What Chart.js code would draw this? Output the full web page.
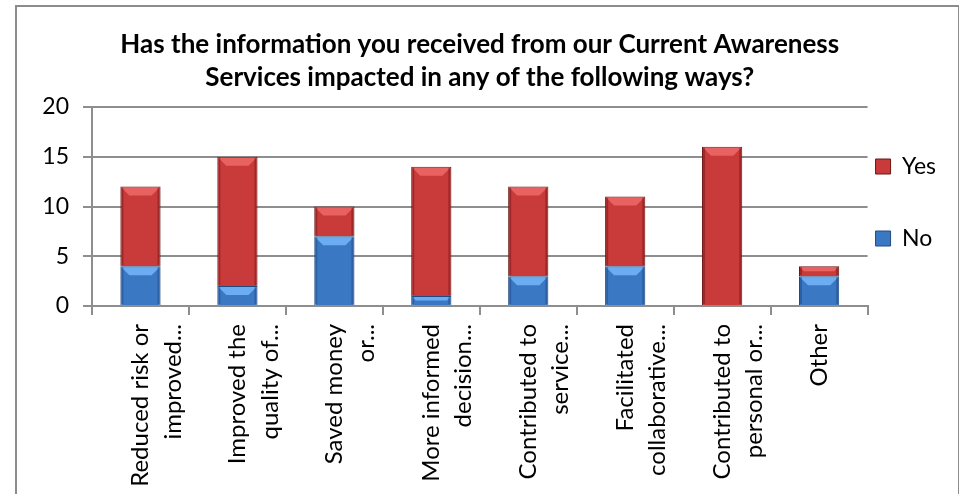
<!DOCTYPE html>
<html>
<head>
<meta charset="utf-8">
<script src="https://cdn.jsdelivr.net/npm/chart.js@4/dist/chart.umd.min.js"></script>
<style>
  body { margin: 0; background: #fff; overflow: hidden; }
  #box { position: absolute; left: 15px; top: 5px; width: 941px; height: 489px; border: 2px solid #8c8c8c; }
</style>
</head>
<body>
<div id="box"><canvas id="c"></canvas></div>
<script>
// データ
const categories = [
    ['Reduced risk or', 'improved...'],
    ['Improved the', 'quality of...'],
    ['Saved money', 'or...'],
    ['More informed', 'decision...'],
    ['Contributed to', 'service...'],
    ['Facilitated', 'collaborative...'],
    ['Contributed to', 'personal or...'],
    'Other'
];
const noValues = [4, 2, 7, 1, 3, 4, 0, 3];
const yesValues = [8, 13, 3, 13, 9, 7, 16, 1];
const yTicks = [0, 5, 10, 15, 20];

const fontName = 'Lato, "Open Sans", sans-serif';

// 立体っぽい面取り（上端のハイライト）
const bevelPlugin = {
    id: 'bevel',
    afterDatasetsDraw(chart) {
        const ctx = chart.ctx;
        chart.data.datasets.forEach((ds, i) => {
            const meta = chart.getDatasetMeta(i);
            meta.data.forEach((bar, j) => {
                if (!ds.data[j]) return;
                const w = bar.width;
                const left = bar.x - w / 2;
                const top = Math.min(bar.y, bar.base);
                const h = Math.abs(bar.base - bar.y);
                const b = Math.min(9, h / 2);
                ctx.save();
                ctx.fillStyle = ds.hiColor;
                ctx.beginPath();
                ctx.moveTo(left + 1, top + 1);
                ctx.lineTo(left + w - 1, top + 1);
                ctx.lineTo(left + w - b, top + b);
                ctx.lineTo(left + b, top + b);
                ctx.closePath();
                ctx.fill();
                // 左右の暗い縁
                ctx.fillStyle = ds.sideColor;
                ctx.fillRect(left + 1, top + 1, 2, h - 2);
                ctx.fillRect(left + w - 3, top + 1, 2, h - 2);
                ctx.restore();
            });
        });
    }
};

new Chart(document.getElementById('c'), {
    type: 'bar',
    data: {
        labels: categories,
        datasets: [
            {
                label: 'No',
                data: noValues,
                backgroundColor: '#3b78c4',
                borderColor: '#1f4a80',
                borderWidth: 1,
                hiColor: 'rgba(110,175,245,0.95)',
                sideColor: 'rgba(30,70,130,0.5)'
            },
            {
                label: 'Yes',
                data: yesValues,
                backgroundColor: '#c93a3a',
                borderColor: '#6e1515',
                borderWidth: 1,
                hiColor: 'rgba(235,100,100,0.95)',
                sideColor: 'rgba(120,20,20,0.5)'
            }
        ]
    },
    options: {
        responsive: true,
        maintainAspectRatio: false,
        animation: false,
        datasets: {
            bar: { barPercentage: 0.415, categoryPercentage: 1 }
        },
        layout: { padding: { left: 0, right: 12, top: 0, bottom: 0 } },
        plugins: {
            title: {
                display: true,
                fullSize: false,
                text: ['Has the information you received from our Current Awareness', 'Services impacted in any of the following ways?'],
                color: '#000',
                font: { family: fontName, size: 26, weight: 'bold', lineHeight: 1.27 },
                padding: { top: 21, bottom: 13 }
            },
            legend: {
                position: 'right',
                align: 'start',
                reverse: true,
                // 空のタイトルで上からの位置を調整
                title: { display: true, text: ' ', font: { size: 10, lineHeight: 1.2 }, padding: { top: 128, bottom: 0 } },
                labels: {
                    color: '#000',
                    // 行の高さで縦の間隔を作る（横の余白は小さく）
                    font: { family: fontName, size: 23, lineHeight: '64px' },
                    boxWidth: 15,
                    boxHeight: 15,
                    padding: 8,
                    generateLabels: chart => {
                        const items = Chart.defaults.plugins.legend.labels.generateLabels(chart);
                        items.forEach(it => { it.text = [it.text]; });
                        return items;
                    }
                }
            },
            tooltip: { enabled: false }
        },
        scales: {
            x: {
                stacked: true,
                border: { color: '#8e8e8e', width: 2 },
                grid: { drawOnChartArea: false, color: '#8e8e8e', lineWidth: 2, tickLength: 9, offset: true },
                afterFit: axis => { axis.height = 190; },
                ticks: {
                    color: '#000',
                    font: { family: fontName, size: 24, lineHeight: 1.35 },
                    minRotation: 90,
                    maxRotation: 90,
                    padding: 9
                }
            },
            y: {
                stacked: true,
                min: 0,
                max: 20,
                border: { color: '#8e8e8e', width: 2 },
                grid: { color: '#8e8e8e', lineWidth: 2, tickLength: 9 },
                afterBuildTicks: axis => { axis.ticks = yTicks.map(v => ({ value: v })); },
                afterFit: axis => { axis.width = 75; },
                ticks: {
                    color: '#000',
                    font: { family: fontName, size: 23 },
                    padding: 14
                }
            }
        }
    },
    plugins: [bevelPlugin]
});
</script>
</body>
</html>
